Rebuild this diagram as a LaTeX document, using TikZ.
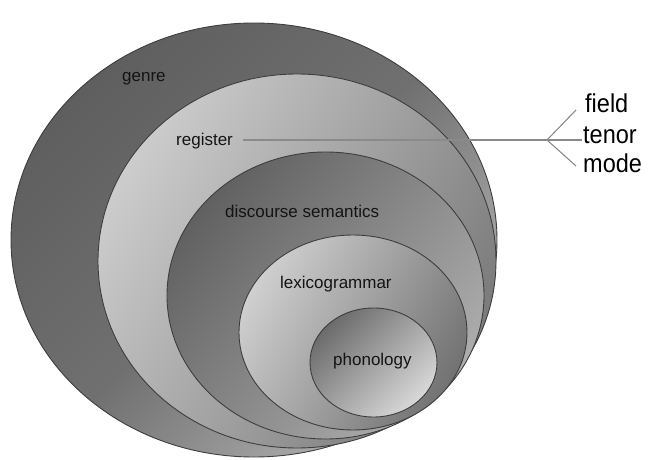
\documentclass[tikz,border=0pt]{standalone}
\usepackage{fontspec}
\setmainfont{Liberation Sans}
\usetikzlibrary{shapes.geometric}

\definecolor{edge}{HTML}{3E3E3E}
\definecolor{ink}{HTML}{141414}
\definecolor{wire}{HTML}{8A8A8A}

\tikzset{
  stratum/.style={ellipse, draw=edge, line width=0.9pt, inner sep=0pt},
  inlabel/.style={inner sep=0pt, anchor=base west, text=ink,
                  font=\fontsize{17}{20}\selectfont},
  outlabel/.style={inner sep=0pt, anchor=base west, text=black, yscale=1.1,
                   font=\fontsize{23.5}{28}\selectfont},
  wireline/.style={draw=wire, line width=1.1pt}
}

\begin{document}
\begin{tikzpicture}[x=1pt, y=-1pt]
  \useasboundingbox (0,0) rectangle (649,460);

  % nested strata, outermost first
  \node[stratum, minimum width=486pt, minimum height=434pt,
        top color=black!63, bottom color=black!30, middle color=black!56,
        shading angle=45] (genreE) at (254,240) {};
  \node[stratum, minimum width=398pt, minimum height=374pt,
        top color=black!20, bottom color=black!52, shading angle=60] (registerE) at (297,261) {};
  \node[stratum, minimum width=317pt, minimum height=287pt,
        top color=black!62, bottom color=black!32, shading angle=50] (discourseE) at (325.5,295.5) {};
  \node[stratum, minimum width=228pt, minimum height=195pt,
        top color=black!19, bottom color=black!55, shading angle=60] (lexicoE) at (353,332.5) {};
  \node[stratum, minimum width=127pt, minimum height=109pt,
        top color=black!58, bottom color=black!15, shading angle=45] (phonoE) at (373.5,362.5) {};

  % stratum names
  \node[inlabel] (genre)     at (122,82)  {genre};
  \node[inlabel] (register)  at (176,146) {register};
  \node[inlabel] (discourse) at (225,218) {discourse semantics};
  \node[inlabel] (lexico)    at (280,288) {lexicogrammar};
  \node[inlabel] (phono)     at (333,365) {phonology};

  % register variables
  \node[outlabel] (field) at (585,113) {field};
  \node[outlabel] (tenor) at (583,144) {tenor};
  \node[outlabel] (mode)  at (583,172) {mode};

  % connector from register out to its three variables
  \coordinate (tail)  at (243,140);
  \coordinate (hub)   at (547,140);
  \coordinate (toF)   at (576,110);
  \coordinate (toT)   at (582,140);
  \coordinate (toM)   at (576,166);
  \draw[wireline] (tail) -- (hub);
  \draw[wireline] (hub) -- (toF);
  \draw[wireline] (hub) -- (toT);
  \draw[wireline] (hub) -- (toM);
\end{tikzpicture}
\end{document}
